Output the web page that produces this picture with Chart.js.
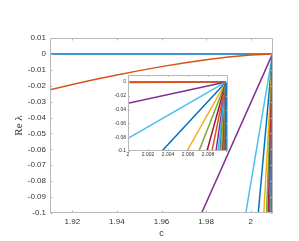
<!DOCTYPE html>
<html>
<head>
<meta charset="utf-8">
<script src="https://cdn.jsdelivr.net/npm/chart.js@4.4.0/dist/chart.umd.min.js"></script>
<style>
  html, body { margin: 0; padding: 0; background: #fff; }
  #wrap { position: relative; width: 299px; height: 241px; }
  #main { position: absolute; left: 0; top: 0; }
  #inset { position: absolute; left: 100px; top: 65px; }
</style>
</head>
<body>
<div id="wrap">
  <canvas id="main" width="299" height="241"></canvas>
  <canvas id="inset" width="135" height="100"></canvas>
</div>
<script>
// point where all the branches meet (Re lambda = 0)
var cEnd = 2.0098

// flat branch
var cFlat = [1.91, cEnd]
var reFlat = [0, 0]

// slowly decaying branch (orange curve)
var cCurve = [1.91, 1.92, 1.93, 1.94, 1.95, 1.96, 1.97, 1.98, 1.99, 2.0, cEnd]
var reCurve = [-0.0225, -0.0192, -0.0161, -0.0132, -0.0105, -0.0080, -0.0057, -0.0037, -0.0020, -0.0007, 0]

// steep branches: c at which each one reaches Re lambda = -0.1
var cCross = [1.978, 1.9978, 2.0034, 2.0059, 2.0071, 2.0079, 2.0084, 2.0088, 2.0090, 2.0092,
              2.0093, 2.0094, 2.0095, 2.00955, 2.0096, 2.00963, 2.00966, 2.00969, 2.00971, 2.00973,
              2.00975, 2.00976, 2.00977, 2.00978]
var steepColors = ['#7E2F8E', '#4DBEEE', '#0072BD', '#EDB120', '#77AC30', '#A2142F', '#D95319']

// axis ticks
var xTicksMain = [1.92, 1.94, 1.96, 1.98, 2]
var yTicksMain = [0.01, 0, -0.01, -0.02, -0.03, -0.04, -0.05, -0.06, -0.07, -0.08, -0.09, -0.1]
var xTicksInset = [2, 2.002, 2.004, 2.006, 2.008]
var yTicksInset = [0, -0.02, -0.04, -0.06, -0.08, -0.1]

function fmt(v) {
    return String(Number(v.toFixed(4)))
}

function pts(xs, ys) {
    return xs.map(function (x, i) { return {x: x, y: ys[i]} })
}

function buildDatasets() {
    var sets = []
    sets.push({data: pts(cFlat, reFlat), borderColor: '#0072BD'})
    sets.push({data: pts(cCurve, reCurve), borderColor: '#D95319'})
    cCross.forEach(function (c, i) {
        sets.push({data: [{x: c, y: -0.1}, {x: cEnd, y: 0}], borderColor: steepColors[i % steepColors.length]})
    })
    sets.forEach(function (s) {
        s.borderWidth = 1.5
        s.pointRadius = 0
        s.fill = false
    })
    // later lines on top, like matlab
    return sets.reverse()
}

var frame = {
    id: 'frame',
    beforeDatasetsDraw: function (chart, args, o) {
        if (!o.fill) return
        var a = chart.chartArea, ctx = chart.ctx
        ctx.save()
        ctx.fillStyle = '#fff'
        ctx.fillRect(a.left, a.top, a.right - a.left, a.bottom - a.top)
        ctx.restore()
    },
    afterDatasetsDraw: function (chart, args, o) {
        var a = chart.chartArea, ctx = chart.ctx
        var x = chart.scales.x, y = chart.scales.y
        var L = Math.round(a.left) + 0.5, R = Math.round(a.right) - 0.5
        var T = Math.round(a.top) + 0.5, B = Math.round(a.bottom) - 0.5
        ctx.save()
        ctx.strokeStyle = o.color
        ctx.lineWidth = 1
        ctx.beginPath()
        ctx.rect(L, T, R - L, B - T)
        x.ticks.forEach(function (t) {
            var px = Math.round(x.getPixelForValue(t.value)) + 0.5
            ctx.moveTo(px, B); ctx.lineTo(px, B - o.len)
            ctx.moveTo(px, T); ctx.lineTo(px, T + o.len)
        })
        y.ticks.forEach(function (t) {
            var py = Math.round(y.getPixelForValue(t.value)) + 0.5
            ctx.moveTo(L, py); ctx.lineTo(L + o.len, py)
            ctx.moveTo(R, py); ctx.lineTo(R - o.len, py)
        })
        ctx.stroke()
        ctx.restore()
    }
}

function makeChart(id, o) {
    var font = {family: 'Liberation Sans, Arial, sans-serif', size: o.fontSize}
    return new Chart(document.getElementById(id), {
        type: 'line',
        data: {datasets: buildDatasets()},
        plugins: [frame],
        options: {
            responsive: false,
            animation: false,
            events: [],
            layout: {padding: o.padding},
            plugins: {
                legend: {display: false},
                tooltip: {enabled: false},
                frame: {color: '#b8b8b8', len: o.tickLen, fill: o.fill}
            },
            scales: {
                x: {
                    type: 'linear',
                    min: o.xMin, max: o.xMax,
                    afterBuildTicks: function (s) { s.ticks = o.xTicks.map(function (v) { return {value: v} }) },
                    afterFit: function (s) { s.height = o.xh },
                    grid: {display: false, drawTicks: false},
                    border: {display: false},
                    ticks: {font: font, color: '#333', padding: o.xPad, maxRotation: 0, autoSkip: false, callback: fmt},
                    title: {display: !!o.xTitle, text: o.xTitle, color: '#333',
                            font: {family: 'Liberation Sans, Arial, sans-serif', size: 9},
                            padding: {top: 0, bottom: 2}}
                },
                y: {
                    type: 'linear',
                    min: o.yMin, max: o.yMax,
                    afterBuildTicks: function (s) { s.ticks = o.yTicks.map(function (v) { return {value: v} }) },
                    afterFit: function (s) { s.width = o.yw },
                    grid: {display: false, drawTicks: false},
                    border: {display: false},
                    ticks: {font: font, color: '#333', padding: o.yPad, autoSkip: false, callback: fmt},
                    title: {display: !!o.yTitle, text: o.yTitle, color: '#333',
                            font: {family: 'Liberation Serif, Times New Roman, serif', size: 11},
                            padding: {top: 13, bottom: 0}}
                }
            }
        }
    })
}

makeChart('main', {
    xMin: 1.91, xMax: 2.01, yMin: -0.1, yMax: 0.01,
    xTicks: xTicksMain, yTicks: yTicksMain,
    padding: {left: 0, top: 38, right: 26, bottom: 0},
    xh: 28, yw: 50, xPad: 4, yPad: 4, fontSize: 8, tickLen: 2,
    xTitle: 'c', yTitle: 'Re \u03bb', fill: false
})

makeChart('inset', {
    xMin: 2, xMax: 2.01, yMin: -0.1, yMax: 0.01,
    xTicks: xTicksInset, yTicks: yTicksInset,
    padding: {left: 0, top: 10, right: 7, bottom: 0},
    xh: 14, yw: 28, xPad: 1, yPad: 2, fontSize: 5, tickLen: 1.5,
    fill: true
})
</script>
</body>
</html>
